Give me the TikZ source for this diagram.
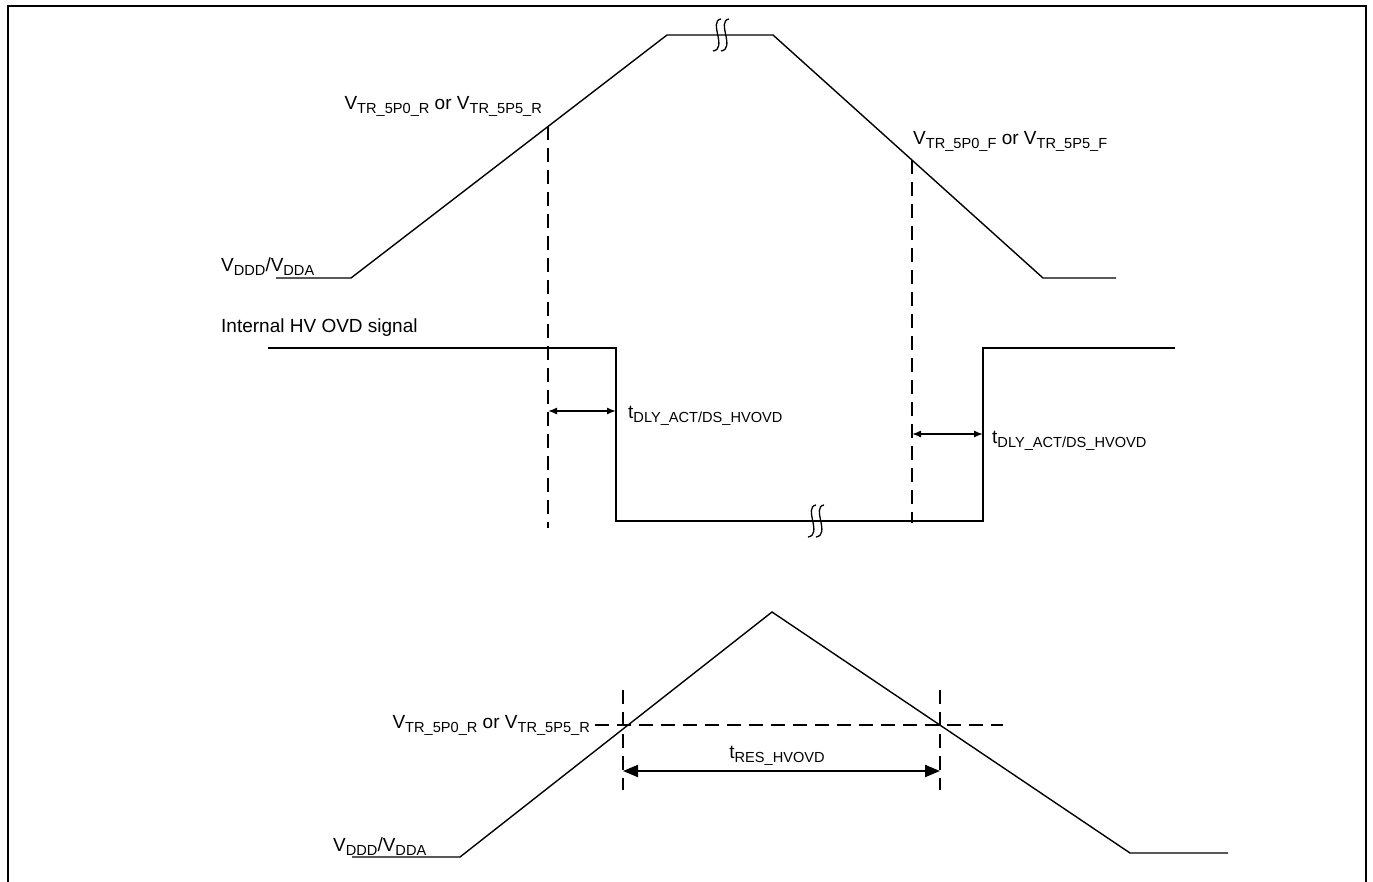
\documentclass[tikz,border=0pt]{standalone}
\usepackage{fontspec}
\setmainfont{Liberation Sans}
\usetikzlibrary{arrows.meta}
\newcommand{\sbs}[1]{\raisebox{-4pt}{\fontsize{14.6}{16}\selectfont #1}}

\begin{document}
\begin{tikzpicture}[x=1pt,y=-1pt,
  wave/.style={line width=1.4pt},
  marker/.style={line width=2.6pt, dash pattern=on 14pt off 8pt},
  lbl/.style={inner sep=0pt, font=\fontsize{19}{23}\selectfont},
  dly/.style={line width=1.4pt,{Latex[length=9pt,width=7pt]}-{Latex[length=9pt,width=7pt]}},
  res/.style={line width=2pt,{Triangle[length=15pt,width=12pt]}-{Triangle[length=15pt,width=12pt]}},
  brk/.pic={\draw[line width=1.3pt] (1,-16) .. controls (-12,-14) and (8,14) .. (-7,16)
              (9,-16) .. controls (-4,-14) and (16,14) .. (1,16);}]
\useasboundingbox (0,0) rectangle (1373,882);
\draw[line width=2pt] (8,882) -- (8,6) -- (1366,6) -- (1366,882);

% supply ramp, top
\coordinate (s0) at (276,278); \coordinate (s1) at (351,278);
\coordinate (s2) at (667,35);  \coordinate (s3) at (773,35);
\coordinate (s4) at (1043,278); \coordinate (s5) at (1116,278);
\draw[wave] (s0) -- (s1) -- (s2) -- (s3) -- (s4) -- (s5);
\pic at (720,35) {brk};
\node[lbl, anchor=base west] (vdd1) at (221,272) {V\sbs{DDD}/V\sbs{DDA}};
\node[lbl, anchor=base east] (vtrr1) at (542,110) {V\sbs{TR\_5P0\_R} or V\sbs{TR\_5P5\_R}};
\node[lbl, anchor=base west] (vtrf1) at (913,145) {V\sbs{TR\_5P0\_F} or V\sbs{TR\_5P5\_F}};

% internal HV OVD signal
\coordinate (o0) at (268,348); \coordinate (o1) at (616,348);
\coordinate (o2) at (616,521); \coordinate (o3) at (983,521);
\coordinate (o4) at (983,348); \coordinate (o5) at (1175,348);
\draw[wave] (o0) -- (o1) -- (o2) -- (o3) -- (o4) -- (o5);
\pic at (815,521) {brk};
\node[lbl, anchor=base west] (ovd) at (221,333) {Internal HV OVD signal};

% trip points and delays
\coordinate (tr) at (548,126); \coordinate (trb) at (548,528);
\coordinate (tf) at (912,160); \coordinate (tfb) at (912,523);
\draw[marker] (tr) -- (trb);
\draw[marker] (tf) -- (tfb);
\draw[dly] (548,411) -- (616,411);
\draw[dly] (912,434) -- (983,434);
\node[lbl, anchor=base west] (dly1) at (628,418) {t\sbs{DLY\_ACT/DS\_HVOVD}};
\node[lbl, anchor=base west] (dly2) at (992,443) {t\sbs{DLY\_ACT/DS\_HVOVD}};

% supply glitch, bottom
\coordinate (g0) at (352,857); \coordinate (g1) at (460,857);
\coordinate (g2) at (772,612); \coordinate (g3) at (1130,853);
\coordinate (g4) at (1228,853);
\draw[wave] (g0) -- (g1) -- (g2) -- (g3) -- (g4);
\node[lbl, anchor=base east] (vtrr2) at (590,728) {V\sbs{TR\_5P0\_R} or V\sbs{TR\_5P5\_R}};
\node[lbl, anchor=base west] (vdd2) at (333,851) {V\sbs{DDD}/V\sbs{DDA}};
\draw[marker] (vtrr2.east |- 0,725) ++(5,0) -- (1003,725);
\coordinate (ra) at (623,690); \coordinate (rb) at (940,690);
\draw[marker] (ra) -- ++(0,100);
\draw[marker] (rb) -- ++(0,100);
\draw[res] (623,771) -- (940,771);
\node[lbl, anchor=base] (res) at (777,758) {t\sbs{RES\_HVOVD}};
\end{tikzpicture}
\end{document}
